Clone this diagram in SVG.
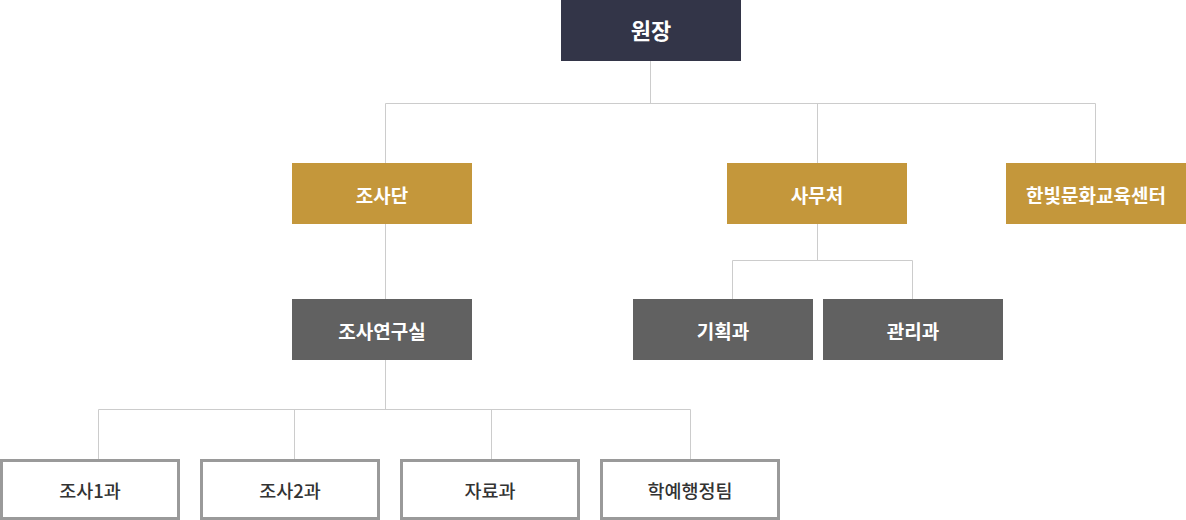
<svg xmlns="http://www.w3.org/2000/svg" width="1186" height="520" viewBox="0 0 1186 520">
<style>
  .lbl{font-family:"Noto Sans CJK KR","Noto Sans",sans-serif;font-size:19px;font-weight:700;fill:#ffffff;text-anchor:middle;dominant-baseline:central}
  .lbl2{font-family:"Noto Sans CJK KR","Noto Sans",sans-serif;font-size:18.5px;font-weight:500;fill:#333333;text-anchor:middle;dominant-baseline:central}
  .head{fill:#333548}
  .gold{fill:#c4973b}
  .gray{fill:#616161}
  .out{fill:#ffffff;stroke:#9a9a9a;stroke-width:3}
  .ln{fill:none;stroke:#cccccc;stroke-width:1}
</style>
<rect width="1186" height="520" fill="#ffffff"/>
<g id="connectors">
  <path class="ln" d="M650.5 61V103.5M385.5 103.5H1095.5M385.5 103.5V163M817.5 103.5V163M1095.5 103.5V163"/>
  <path class="ln" d="M385.5 224V299"/>
  <path class="ln" d="M817.5 224V260.5M732.5 260.5H912.5M732.5 260.5V299M912.5 260.5V299"/>
  <path class="ln" d="M385.5 360V409.5M98.5 409.5H690.5M98.5 409.5V459M294.5 409.5V459M491.5 409.5V459M690.5 409.5V459"/>
</g>
<g id="n-wonjang"><rect class="head" x="561" y="0" width="180" height="61"/><text class="lbl" x="651" y="29" style="font-size:22px">원장</text></g>
<g id="n-josadan"><rect class="gold" x="292" y="163" width="180" height="61"/><text class="lbl" x="382" y="194">조사단</text></g>
<g id="n-samucheo"><rect class="gold" x="727" y="163" width="180" height="61"/><text class="lbl" x="817" y="194">사무처</text></g>
<g id="n-hanbit"><rect class="gold" x="1006" y="163" width="180" height="61"/><text class="lbl" x="1096" y="194">한빛문화교육센터</text></g>
<g id="n-yeongusil"><rect class="gray" x="292" y="299" width="180" height="61"/><text class="lbl" x="382" y="330">조사연구실</text></g>
<g id="n-gihoek"><rect class="gray" x="633" y="299" width="180" height="61"/><text class="lbl" x="723" y="330">기획과</text></g>
<g id="n-gwanri"><rect class="gray" x="823" y="299" width="180" height="61"/><text class="lbl" x="913" y="330">관리과</text></g>
<g id="n-josa1"><rect class="out" x="1.5" y="460.5" width="177" height="58"/><text class="lbl2" x="90" y="490">조사1과</text></g>
<g id="n-josa2"><rect class="out" x="201.5" y="460.5" width="177" height="58"/><text class="lbl2" x="290" y="490">조사2과</text></g>
<g id="n-jaryo"><rect class="out" x="401.5" y="460.5" width="177" height="58"/><text class="lbl2" x="490" y="490">자료과</text></g>
<g id="n-hakye"><rect class="out" x="601.5" y="460.5" width="177" height="58"/><text class="lbl2" x="690" y="490">학예행정팀</text></g>
</svg>
